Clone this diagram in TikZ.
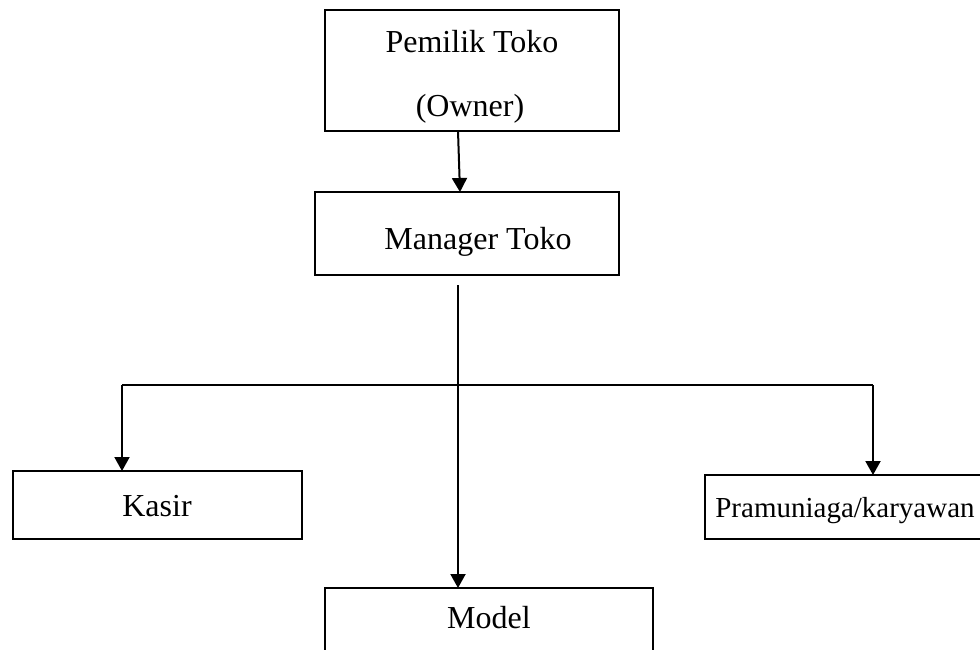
\documentclass[tikz,border=0pt]{standalone}
\usepackage{fontspec}
\setmainfont{Liberation Serif}
\usetikzlibrary{arrows.meta,calc}
\begin{document}
\begin{tikzpicture}[x=1pt,y=-1pt,
  box/.style={draw,line width=1.5pt,inner sep=0pt,outer sep=0pt},
  txt/.style={font=\fontsize{32}{38}\selectfont,anchor=base,inner sep=0pt},
  conn/.style={line width=2pt,-{Triangle[length=14pt,width=15pt]}},
  plain/.style={line width=2pt}]
\clip (0,0) rectangle (980,649);
\useasboundingbox (0,0) rectangle (980,649);
% boxes
\node[box,minimum width=294pt,minimum height=121pt] (owner) at (472,70.5) {};
\node[box,minimum width=304pt,minimum height=83pt] (manager) at (467,233.5) {};
\node[box,minimum width=289pt,minimum height=68pt] (kasir) at (157.5,505) {};
\node[box,minimum width=300pt,minimum height=64pt] (pram) at (855,507) {};
\node[box,minimum width=328pt,minimum height=90pt] (model) at (489,633) {};
% texts
\node[txt] (t1) at (472,52) {Pemilik Toko};
\node[txt] (t2) at (470,116) {(Owner)};
\node[txt] (t3) at (478,249) {Manager Toko};
\node[txt] (t4) at (157,516) {Kasir};
\node[txt,font=\fontsize{29}{34}\selectfont] (t5) at (845,517) {Pramuniaga/karyawan};
\node[txt] (t6) at (489,628) {Model};
% connectors
\draw[conn] ($(owner.south west)+(133,0)$) -- ($(manager.north west)+(145,0)$);
\coordinate (split) at (458,285);
\draw[conn] (split) -- (split |- model.north);
\coordinate (hl) at (122,385);
\coordinate (hr) at (873,385);
\draw[plain] (hl) -- (hr);
\draw[conn] (hl) -- (hl |- kasir.north);
\draw[conn] (hr) -- (hr |- pram.north);
\end{tikzpicture}
\end{document}
